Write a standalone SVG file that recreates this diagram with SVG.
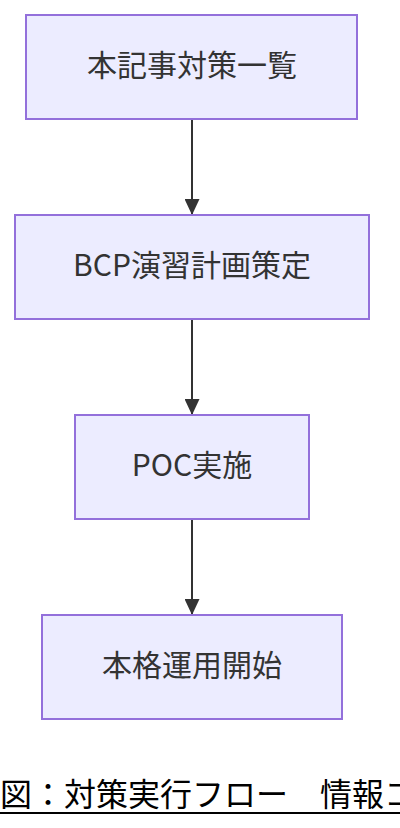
<svg xmlns="http://www.w3.org/2000/svg" width="400" height="828" viewBox="0 0 400 828">
<defs>
<style>
.node rect{fill:#ECECFF;stroke:#9370DB;stroke-width:2}
.node text{font-family:"Noto Sans CJK JP","Noto Sans",sans-serif;font-size:30px;fill:#333;text-anchor:middle}
.edge{stroke:#333;stroke-width:2;fill:none}
.caption{font-family:"Noto Sans CJK JP",sans-serif;font-size:32px;fill:#000}
</style>
<marker id="arrow" viewBox="0 0 16 15" refX="16" refY="7.5" markerWidth="16" markerHeight="15" markerUnits="userSpaceOnUse" orient="auto">
<path d="M0,0 L16,7.5 L0,15 z" fill="#333"/>
</marker>
</defs>
<rect width="400" height="828" fill="#fff"/>
<g id="connectors">
<line class="edge" x1="192" y1="119" x2="192" y2="215" marker-end="url(#arrow)"/>
<line class="edge" x1="192" y1="319" x2="192" y2="415" marker-end="url(#arrow)"/>
<line class="edge" x1="192" y1="519" x2="192" y2="615" marker-end="url(#arrow)"/>
</g>
<g id="node1" class="node">
<rect x="26" y="15" width="331" height="104"/>
<text x="192" y="76">本記事対策一覧</text>
</g>
<g id="node2" class="node">
<rect x="15" y="215" width="354" height="104"/>
<text x="192" y="276">BCP演習計画策定</text>
</g>
<g id="node3" class="node">
<rect x="75" y="415" width="234" height="104"/>
<text x="192" y="476">POC実施</text>
</g>
<g id="node4" class="node">
<rect x="42" y="615" width="300" height="104"/>
<text x="192" y="676">本格運用開始</text>
</g>
<g id="caption">
<text class="caption" x="0" y="806">図：対策実行フロー　情報コ</text>
<line x1="0" y1="813" x2="400" y2="813" stroke="#000" stroke-width="2"/>
</g>
</svg>
